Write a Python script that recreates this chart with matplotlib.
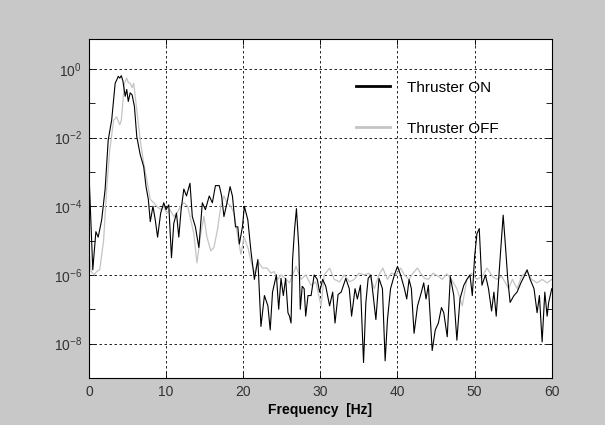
import numpy as np
import matplotlib
matplotlib.use("Agg")
import matplotlib.pyplot as plt
from matplotlib.ticker import FixedLocator, NullFormatter

plt.rcParams['font.family'] = ['Liberation Sans', 'DejaVu Sans']
plt.rcParams['mathtext.fontset'] = 'custom'
plt.rcParams['mathtext.rm'] = 'Liberation Sans'
plt.rcParams['mathtext.it'] = 'Liberation Sans:italic'
plt.rcParams['mathtext.bf'] = 'Liberation Sans:bold'

# Thruster ON: frequency [Hz] and log10 of the spectrum
freq_on = [0.0, 0.5, 0.9, 1.2, 1.65, 2.1, 2.5, 2.95, 3.4, 3.65, 3.8, 4.0, 4.2, 4.4, 4.7,
           4.9, 5.1, 5.35, 5.6, 5.9, 6.2, 6.65, 7.1, 7.4, 7.7, 7.95, 8.3, 8.6, 8.9, 9.3,
           9.7, 10.0, 10.35, 10.7, 11.0, 11.35, 11.65, 11.95, 12.3, 12.65, 13.1, 13.4,
           13.8, 14.25, 14.7, 15.1, 15.6, 16.0, 16.4, 16.9, 17.2, 17.5, 17.9, 18.3, 18.6,
           19.0, 19.3, 19.5, 19.9, 20.15, 20.6, 21.0, 21.45, 21.9, 22.3, 22.75, 23.2,
           23.5, 23.8, 24.3, 24.6, 24.9, 25.2, 25.5, 25.8, 26.0, 26.2, 26.4, 26.65, 26.9,
           27.2, 27.4, 27.65, 27.9, 28.1, 28.4, 28.8, 29.2, 29.6, 29.9, 30.3, 30.7, 31.2,
           31.6, 31.9, 32.3, 32.7, 33.3, 33.75, 34.05, 34.5, 34.8, 35.2, 35.6, 35.9, 36.2,
           36.55, 36.9, 37.2, 37.6, 38.05, 38.4, 38.7, 39.1, 39.6, 40.0, 40.4, 40.9, 41.2,
           41.5, 41.8, 42.15, 42.6, 43.1, 43.4, 43.7, 44.0, 44.5, 44.9, 45.3, 45.7, 46.0,
           46.45, 46.85, 47.3, 47.7, 48.1, 48.6, 49.0, 49.4, 49.7, 50.0, 50.3, 50.6, 50.95,
           51.4, 51.8, 52.2, 52.5, 52.8, 53.2, 53.7, 54.0, 54.3, 54.6, 55.1, 55.5, 56.0,
           56.4, 56.8, 57.2, 57.7, 58.1, 58.4, 58.75, 59.1, 59.4, 59.6, 60.0]
log_on = [-3.0, -5.85, -4.74, -4.9, -4.4, -3.5, -2.07, -1.49, -0.42, -0.3, -0.22, -0.27,
          -0.2, -0.35, -0.8, -0.6, -0.95, -0.7, -0.76, -1.1, -1.97, -2.5, -2.85, -3.43,
          -3.8, -4.45, -4.0, -4.4, -4.9, -4.2, -3.9, -4.1, -3.96, -5.5, -4.5, -4.2, -4.9,
          -4.1, -3.5, -3.7, -3.33, -4.3, -4.6, -5.2, -3.9, -4.1, -3.7, -3.9, -3.4, -3.4,
          -3.7, -4.3, -3.9, -3.43, -3.7, -4.6, -4.6, -5.1, -4.6, -4.0, -4.4, -5.3, -6.13,
          -5.55, -7.5, -6.6, -6.9, -7.6, -6.5, -6.0, -7.0, -6.1, -6.6, -6.1, -7.1, -7.2,
          -7.4, -5.55, -4.7, -4.07, -5.17, -7.0, -6.33, -6.4, -7.2, -6.6, -6.6, -6.0, -6.13,
          -6.5, -6.13, -6.33, -6.9, -6.5, -7.4, -6.57, -6.5, -6.1, -6.4, -7.2, -6.4, -6.7,
          -6.3, -8.55, -6.8, -6.1, -6.0, -6.7, -7.3, -6.1, -6.4, -8.5, -7.3, -6.4, -6.0,
          -5.75, -6.0, -6.4, -6.7, -6.13, -6.4, -7.7, -6.9, -6.5, -6.23, -6.7, -6.3, -8.2,
          -7.6, -7.4, -6.95, -7.1, -7.8, -6.05, -6.6, -7.9, -6.7, -6.3, -6.13, -6.0, -6.6,
          -5.46, -4.8, -4.65, -6.3, -6.0, -6.4, -7.05, -6.5, -7.2, -5.85, -4.26, -5.17,
          -6.13, -6.8, -6.6, -6.5, -6.23, -6.05, -5.85, -6.13, -6.4, -7.1, -6.6, -7.95,
          -6.5, -7.2, -6.8, -6.4]

# Thruster OFF
freq_off = [0.0, 0.3, 0.7, 1.0, 1.4, 1.9, 2.3, 2.7, 3.2, 3.6, 4.0, 4.2, 4.6, 4.9, 5.1,
            5.35, 5.6, 5.8, 6.1, 6.65, 7.1, 7.5, 7.95, 8.4, 8.8, 9.3, 9.7, 10.1, 10.5,
            11.0, 11.4, 11.9, 12.3, 12.8, 13.2, 13.6, 14.0, 14.5, 14.9, 15.3, 15.8, 16.2,
            16.65, 17.1, 17.5, 17.9, 18.4, 18.8, 19.3, 19.7, 20.1, 20.6, 21.0, 21.45, 21.9,
            22.5, 23.1, 23.6, 24.0, 24.5, 24.9, 25.55, 26.0, 26.4, 26.85, 27.5, 28.1, 28.8,
            29.4, 30.1, 30.5, 31.2, 31.8, 32.5, 33.1, 33.8, 34.4, 35.0, 35.7, 36.3, 37.0,
            37.6, 38.1, 38.7, 39.2, 39.8, 40.4, 40.9, 41.5, 42.0, 42.6, 43.0, 43.5, 44.0,
            44.6, 45.3, 45.8, 46.4, 47.0, 47.7, 48.4, 49.0, 49.6, 50.3, 51.0, 51.6, 52.3,
            52.9, 53.5, 54.0, 54.4, 54.9, 55.5, 56.1, 56.8, 57.4, 58.1, 58.75, 59.4, 60.0]
log_off = [-5.3, -5.9, -6.0, -5.9, -5.85, -5.0, -3.5, -2.36, -1.5, -1.4, -1.63, -1.5,
           -0.42, -0.27, -0.4, -0.42, -0.55, -0.42, -1.0, -2.07, -2.75, -3.23, -3.8, -3.9,
           -4.0, -4.1, -4.0, -4.2, -4.1, -4.3, -4.2, -4.0, -3.9, -4.0, -4.4, -4.8, -5.65,
           -4.8, -4.3, -4.9, -5.3, -5.2, -4.7, -4.0, -3.7, -3.9, -4.0, -4.2, -4.9, -5.4,
           -4.9, -5.2, -5.6, -5.95, -5.6, -5.8, -5.8, -5.95, -5.9, -6.13, -6.0, -6.13,
           -6.23, -6.0, -5.75, -6.13, -6.0, -6.3, -6.2, -6.9, -6.0, -5.8, -6.13, -6.2,
           -6.0, -6.2, -6.13, -5.95, -6.0, -5.95, -6.4, -6.0, -5.8, -6.13, -5.95, -6.0,
           -5.8, -6.0, -6.13, -5.95, -5.8, -5.95, -6.1, -6.13, -5.95, -6.04, -6.13, -5.97,
           -6.13, -6.4, -6.9, -6.13, -5.95, -6.13, -6.04, -5.8, -6.04, -6.13, -6.04, -6.23,
           -6.4, -6.13, -6.4, -6.04, -5.9, -6.13, -6.23, -6.13, -6.23, -6.13]

psd_on = 10.0 ** np.array(log_on)
psd_off = 10.0 ** np.array(log_off)

fig = plt.figure(figsize=(6.05, 4.25), dpi=100, facecolor='#c8c8c8')
ax = fig.add_axes([0.147, 0.1106, 0.765, 0.797])
ax.set_facecolor('white')

ax.semilogy(freq_off, psd_off, color='#c4c4c4', lw=0.9, label='Thruster OFF')
ax.semilogy(freq_on, psd_on, color='black', lw=0.8, label='Thruster ON')

ax.set_xlim(0, 60)
ax.set_ylim(1e-9, 10 ** 0.86)

ax.xaxis.set_major_locator(FixedLocator([0, 10, 20, 30, 40, 50, 60]))
ax.yaxis.set_major_locator(FixedLocator([1e-8, 1e-6, 1e-4, 1e-2, 1e0]))
ax.yaxis.set_minor_locator(FixedLocator([1e-9, 1e-7, 1e-5, 1e-3, 1e-1]))
ax.yaxis.set_minor_formatter(NullFormatter())
ax.set_yticklabels([r'$10^{-8}$', r'$10^{-6}$', r'$10^{-4}$', r'$10^{-2}$', r'$10^{0}$'])

ax.tick_params(which='both', direction='in', top=True, right=True, length=4,
               width=0.6, labelsize=10, pad=5, labelcolor='#333333')
ax.grid(which='major', color='black', linestyle=(0, (3, 3)), linewidth=0.6)
for s in ax.spines.values():
    s.set_linewidth(0.8)

ax.set_xlabel('Frequency  [Hz]', fontsize=10, fontweight='bold', labelpad=3)

handles, labels = ax.get_legend_handles_labels()
leg = ax.legend(handles[::-1], labels[::-1], loc='upper left',
                bbox_to_anchor=(0.548, 0.918), frameon=False, fontsize=11,
                handlelength=2.2, handletextpad=1.15, labelspacing=1.75)
for line in leg.get_lines():
    line.set_linewidth(2)

fig.savefig('out.png', dpi=100, facecolor=fig.get_facecolor())
